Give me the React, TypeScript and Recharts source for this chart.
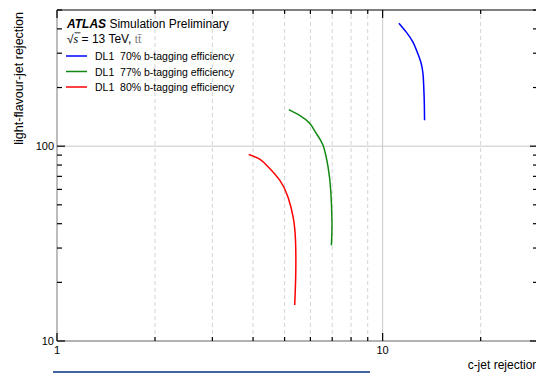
import { LineChart, Line, XAxis, YAxis, ReferenceLine } from 'recharts';

/* ── Axis ticks ── */
const xTicks = [1, 2, 3, 4, 5, 6, 7, 8, 9, 10, 20, 30];
const yTicks = [10, 20, 30, 40, 50, 60, 70, 80, 90, 100, 200, 300, 400, 500];
const xMajor = [1, 10];
const yMajor = [10, 100];
const xDashedGrid = [2, 3, 4, 5, 6, 7, 8, 9, 20];

/* ── Curves: [c-jet rejection, light-flavour-jet rejection] ── */
const dl1Eff70 = [
  [11.22, 428], [11.82, 385], [12.39, 342], [12.83, 298], [13.14, 265],
  [13.3, 236], [13.36, 210], [13.42, 172], [13.45, 136],
];
const dl1Eff77 = [
  [5.15, 154], [5.56, 144], [5.97, 131], [6.26, 116], [6.56, 101],
  [6.8, 78], [6.93, 59], [6.99, 40], [6.96, 31],
];
const dl1Eff80 = [
  [3.88, 90.6], [4.15, 86.5], [4.4, 79.9], [4.83, 66.9], [5.12, 54.9],
  [5.31, 43.4], [5.4, 33], [5.41, 22.2], [5.37, 15.3],
];

const series = [
  { name: 'DL1  70% b-tagging efficiency', color: '#0000ff', points: dl1Eff70 },
  { name: 'DL1  77% b-tagging efficiency', color: '#118811', points: dl1Eff77 },
  { name: 'DL1  80% b-tagging efficiency', color: '#ff0000', points: dl1Eff80 },
];

const FONT = '"Liberation Sans", Arial, sans-serif';

/* ── Tick renderers (ticks point into the frame) ── */
const LeftTick = ({ x, y, payload }: any) => {
  const major = yMajor.includes(payload.value);
  return (
    <g>
      <line x1={x} x2={x + (major ? 8 : 5)} y1={y} y2={y} stroke="#000" strokeWidth={1.2} />
      {major && (
        <text x={x - 3} y={y + 4} textAnchor="end" fontSize={11} fontFamily={FONT} fill="#000">
          {payload.value}
        </text>
      )}
    </g>
  );
};
const RightTick = ({ x, y, payload }: any) => {
  const major = yMajor.includes(payload.value);
  return <line x1={x} x2={x - (major ? 8 : 5)} y1={y} y2={y} stroke="#000" strokeWidth={1.2} />;
};
const BottomTick = ({ x, y, payload }: any) => {
  const major = xMajor.includes(payload.value);
  return (
    <g>
      <line x1={x} x2={x} y1={y} y2={y - (major ? 8 : 4)} stroke="#000" strokeWidth={1.2} />
      {major && (
        <text x={x} y={y + 13} textAnchor="middle" fontSize={11} fontFamily={FONT} fill="#000">
          {payload.value}
        </text>
      )}
    </g>
  );
};
const TopTick = ({ x, y, payload }: any) => {
  const major = xMajor.includes(payload.value);
  return <line x1={x} x2={x} y1={y} y2={y + (major ? 8 : 4)} stroke="#000" strokeWidth={1.2} />;
};

export default function App() {
  return (
    <div style={{ position: 'absolute', left: 0, top: 0, width: 536, height: 373, overflow: 'hidden', background: '#fff' }}>
      <LineChart width={560} height={373} margin={{ top: 9, right: 21, bottom: 31, left: 56 }}>
        <XAxis xAxisId={0} dataKey="x" type="number" scale="log" domain={[1, 30]} allowDataOverflow
          ticks={xTicks} interval={0} height={1} tickSize={0} tickMargin={0} tick={<BottomTick />}
          axisLine={{ stroke: '#999', strokeWidth: 1.3 }} tickLine={false} />
        <XAxis xAxisId="top" orientation="top" dataKey="x" type="number" scale="log" domain={[1, 30]} allowDataOverflow
          ticks={xTicks} interval={0} height={1} tickSize={0} tickMargin={0} tick={<TopTick />}
          axisLine={{ stroke: '#000', strokeWidth: 1.2 }} tickLine={false} />
        <YAxis yAxisId={0} type="number" scale="log" domain={[10, 500]} allowDataOverflow
          ticks={yTicks} interval={0} width={1} tickSize={0} tickMargin={0} tick={<LeftTick />}
          axisLine={{ stroke: '#999', strokeWidth: 1.3 }} tickLine={false} />
        <YAxis yAxisId="right" orientation="right" type="number" scale="log" domain={[10, 500]} allowDataOverflow
          ticks={yTicks} interval={0} width={1} tickSize={0} tickMargin={0} tick={<RightTick />}
          axisLine={{ stroke: '#000', strokeWidth: 1.2 }} tickLine={false} />

        {xDashedGrid.map((v) => (
          <ReferenceLine key={`gx-${v}`} x={v} stroke="#d4d4d4" strokeDasharray="4 3" />
        ))}
        <ReferenceLine x={10} stroke="#c8c8c8" />
        <ReferenceLine y={100} stroke="#c8c8c8" />

        {series.map((s) => (
          <Line key={s.name} data={s.points.map(([x, y]) => ({ x, y }))} dataKey="y" name={s.name}
            type="natural" stroke={s.color} strokeWidth={1.5} dot={false} isAnimationActive={false} />
        ))}
      </LineChart>

      {/* Labels and legend */}
      <svg width={536} height={373} style={{ position: 'absolute', left: 0, top: 0, pointerEvents: 'none' }}>
        <text x={67} y={27.5} fontSize={12} fontFamily={FONT} fill="#000">
          <tspan fontWeight="bold" fontStyle="italic">ATLAS</tspan>
          <tspan> Simulation Preliminary</tspan>
        </text>
        <text x={67} y={43} fontSize={12} fontFamily={FONT} fill="#000" style={{ whiteSpace: 'pre' }}>
          <tspan>√</tspan>
          <tspan fontFamily="'Liberation Serif', serif" fontStyle="italic">s</tspan>
          <tspan> = 13 TeV, </tspan>
          <tspan fontFamily="'Liberation Serif', serif" fill="#777">t{'t\u0304'}</tspan>
        </text>
        <line x1={74.5} x2={80.5} y1={32.8} y2={32.8} stroke="#000" strokeWidth={0.8} />
        {series.map((s, i) => (
          <g key={s.name}>
            <line x1={66} x2={87} y1={56 + i * 15.5} y2={56 + i * 15.5} stroke={s.color} strokeWidth={1.5} />
            <text x={95} y={60 + i * 15.5} fontSize={10.5} fontFamily={FONT} fill="#000" style={{ whiteSpace: 'pre' }}>
              {s.name}
            </text>
          </g>
        ))}
        <text transform="rotate(-90 23 12)" x={23} y={12} textAnchor="end" fontSize={12.5} fontFamily={FONT} fill="#000">
          light-flavour-jet rejection
        </text>
        <text x={539} y={369} textAnchor="end" fontSize={12} fontFamily={FONT} fill="#000">
          c-jet rejection
        </text>
      </svg>
      <div style={{ position: 'absolute', left: 53, top: 371, width: 317, height: 1.5, background: '#4463a3' }} />
    </div>
  );
}
